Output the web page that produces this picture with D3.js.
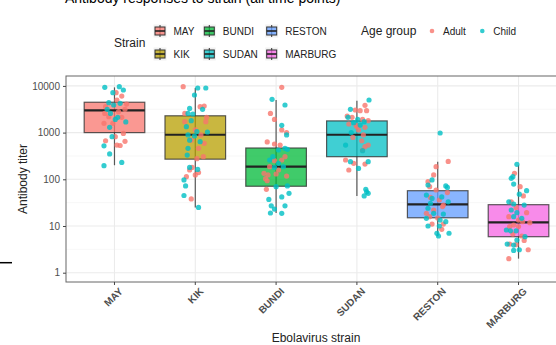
<!DOCTYPE html>
<html>
<head>
<meta charset="utf-8">
<script src="https://cdn.jsdelivr.net/npm/d3@7"></script>
<style>
  body { margin: 0; background: #fff; }
  svg { display: block; font-family: "Liberation Sans", Arial, sans-serif; }
</style>
</head>
<body>
<svg class="titer" width="556" height="345"></svg>
<script>
// Antibody titer per ebolavirus strain, boxplot + jittered points by age group.
var strains = ["MAY", "KIK", "BUNDI", "SUDAN", "RESTON", "MARBURG"];
var strainColors = ["#F8766D", "#B79F00", "#00BA38", "#00BFC4", "#619CFF", "#F564E3"];
var ageGroups = ["Adult", "Child"];
var ageColors = ["#F8766D", "#00BFC4"];
var yTicks = [1, 10, 100, 1000, 10000];

// box stats: [lower whisker, Q1, median, Q3, upper whisker]
var boxMAY = [200, 1000, 3000, 4470, 9300];
var boxKIK = [25, 270, 900, 2290, 9000];
var boxBUNDI = [19, 71, 187, 468, 5000];
var boxSUDAN = [44, 305, 900, 1780, 4800];
var boxRESTON = [6, 15, 29, 57, 238];
var boxMARBURG = [2.0, 5.9, 12, 28.6, 202];

// points: [jitter (fraction of a category step), titer]
var adultMAY = [[0.02,7160],[0.09,6070],[0.03,4990],[0.15,4090],[-0.11,3590],[0.13,3150],[0.05,2810],[-0.12,2580],[-0.07,2190],[0.09,2120],[-0.13,1580],[0.11,960],[0.01,820],[-0.11,670],[0.13,650],[0.03,540],[0.07,530],[-0.02,1580]];
var childMAY = [[-0.12,9310],[0.06,9620],[0.11,8170],[-0.02,7160],[-0.07,4380],[-0.01,3900],[0.07,4230],[-0.05,2580],[0.01,1920],[0.14,1690],[-0.06,1300],[-0.03,820],[-0.13,520],[-0.06,350],[-0.13,196],[0.09,230],[0.04,2120],[-0.09,3150]];
var adultKIK = [[-0.15,9620],[0.11,3700],[0.06,3590],[-0.13,2580],[0.14,2120],[0.13,1710],[-0.13,1710],[0.00,1140],[0.07,890],[-0.05,690],[0.11,590],[0.04,460],[0.10,305],[0.02,277],[-0.04,180],[-0.07,158],[0.04,139],[0.00,124],[-0.11,114],[-0.05,38]];
var childKIK = [[0.03,9020],[0.13,9020],[-0.01,6380],[-0.07,3300],[0.09,3150],[-0.09,2580],[-0.03,2500],[-0.05,1800],[-0.11,1340],[0.02,1050],[0.15,1030],[-0.09,890],[-0.01,845],[-0.07,690],[0.06,640],[-0.09,460],[-0.10,330],[-0.07,180],[0.03,163],[-0.14,97],[-0.12,72],[-0.14,45],[0.04,25]];
var adultBUNDI = [[0.07,9310],[-0.07,2580],[-0.02,1920],[0.07,1140],[0.13,1000],[-0.11,630],[-0.02,570],[0.05,540],[0.11,305],[0.07,259],[-0.02,251],[-0.08,186],[0.03,158],[-0.15,134],[-0.10,124],[0.13,117],[-0.13,103],[-0.11,93],[0.00,130],[-0.12,61]];
var childBUNDI = [[-0.05,5150],[0.11,3900],[0.07,1430],[0.13,890],[0.11,460],[0.03,424],[0.14,438],[-0.04,305],[-0.08,259],[0.03,220],[-0.02,180],[0.09,186],[0.00,69.5],[0.14,72],[0.07,42],[0.16,50],[-0.09,37],[-0.06,27],[0.11,27],[-0.02,23],[-0.07,19],[0.07,18.7]];
var adultSUDAN = [[0.10,3830],[-0.02,3050],[0.04,2950],[0.12,2950],[-0.12,2260],[-0.06,2120],[0.07,1920],[0.14,1800],[-0.10,1530],[-0.01,1430],[0.10,1300],[0.02,1140],[0.08,890],[-0.05,790],[0.06,670],[0.14,540],[0.10,500],[0.07,424],[-0.14,259],[-0.04,220],[0.10,212],[-0.10,158],[0.00,1340]];
var childSUDAN = [[0.15,4990],[-0.08,3150],[-0.11,2120],[0.01,1920],[0.09,1710],[-0.04,1630],[0.04,1450],[-0.07,1000],[-0.14,540],[0.07,410],[-0.08,238],[0.14,238],[0.02,171],[0.11,61],[0.14,50],[0.09,44],[0.12,54]];
var adultRESTON = [[0.13,242],[-0.02,186],[-0.05,124],[-0.12,89],[-0.10,69.5],[-0.02,59],[0.12,52],[-0.09,41],[0.02,36],[0.07,28],[-0.05,22],[-0.14,18.7],[0.06,26],[-0.10,15.8],[0.00,14.8],[-0.07,11],[0.07,11],[0.05,8.5]];
var childRESTON = [[0.03,980],[-0.07,97],[-0.12,75.5],[0.10,72],[0.12,67],[-0.14,46],[-0.07,39],[0.05,42],[0.13,33],[-0.12,24],[-0.05,18.7],[0.07,18],[-0.14,14.6],[0.03,13.4],[0.10,12.4],[-0.12,10],[0.02,10],[-0.01,7],[0.01,6.1],[0.14,7],[-0.09,30.6]];
var adultMARBURG = [[-0.05,134],[0.02,69.5],[0.06,44],[-0.09,33],[-0.03,25],[0.10,19.3],[-0.12,15.8],[0.05,12.4],[0.14,11.8],[-0.06,10.5],[-0.11,9.7],[0.00,9.7],[-0.07,6.7],[0.04,6.1],[0.07,4.9],[-0.11,4.1],[-0.03,4.0],[0.12,3.1],[-0.12,2.0],[0.00,13.4]];
var childMARBURG = [[-0.02,209],[-0.07,114],[-0.09,105],[-0.06,79],[0.10,57],[0.01,48],[-0.12,33],[-0.06,29.6],[0.07,28],[-0.09,22],[-0.02,19.3],[-0.06,15.8],[0.04,14.6],[-0.15,8.2],[-0.10,7.9],[-0.03,7.9],[0.08,5.9],[-0.14,4.1],[-0.06,3.9],[-0.02,5.0],[0.01,3.1],[-0.06,3.0]];

var boxes = [boxMAY, boxKIK, boxBUNDI, boxSUDAN, boxRESTON, boxMARBURG];
var adults = [adultMAY, adultKIK, adultBUNDI, adultSUDAN, adultRESTON, adultMARBURG];
var children = [childMAY, childKIK, childBUNDI, childSUDAN, childRESTON, childMARBURG];

var svg = d3.select("svg.titer");
var panel = {left: 66, right: 567, top: 76, bottom: 282};

// discrete x: ggplot adds 0.6 of a step on each side
var step = (panel.right - panel.left) / (strains.length + 0.2);
var x = function(i) { return panel.left + (0.6 + i) * step; };
var y = d3.scaleLog().domain([0.632, 16300]).range([panel.bottom, panel.top]);

// cut-off title at the very top (only the bottom of the glyphs shows)
svg.append("text")
    .attr("x", 65).attr("y", 3)
    .attr("font-size", "14px").attr("fill", "#000")
    .text("Antibody responses to strain (all time points)");

// stray mark on the left
svg.append("line")
    .attr("x1", 0).attr("x2", 12).attr("y1", 262.7).attr("y2", 262.7)
    .attr("stroke", "#000").attr("stroke-width", 1.5);

// panel grid
var g = svg.append("g");
var minor = yTicks.slice(0, -1).map(function(t) { return t * Math.sqrt(10); });
g.selectAll("line.minor").data(minor).enter().append("line")
    .attr("x1", panel.left).attr("x2", panel.right)
    .attr("y1", function(d) { return y(d); }).attr("y2", function(d) { return y(d); })
    .attr("stroke", "#F2F2F2").attr("stroke-width", 0.6);
g.selectAll("line.major").data(yTicks).enter().append("line")
    .attr("x1", panel.left).attr("x2", panel.right)
    .attr("y1", function(d) { return y(d); }).attr("y2", function(d) { return y(d); })
    .attr("stroke", "#EBEBEB").attr("stroke-width", 1.1);
g.selectAll("line.vgrid").data(strains).enter().append("line")
    .attr("x1", function(d, i) { return x(i); }).attr("x2", function(d, i) { return x(i); })
    .attr("y1", panel.top).attr("y2", panel.bottom)
    .attr("stroke", "#EBEBEB").attr("stroke-width", 1.1);

// boxes
var bw = step * 0.75;
boxes.forEach(function(b, i) {
    var cx = x(i);
    g.append("line")
        .attr("x1", cx).attr("x2", cx).attr("y1", y(b[0])).attr("y2", y(b[4]))
        .attr("stroke", "#333").attr("stroke-width", 1.2).attr("opacity", 0.8);
    g.append("rect")
        .attr("x", cx - bw / 2).attr("width", bw)
        .attr("y", y(b[3])).attr("height", y(b[1]) - y(b[3]))
        .attr("fill", strainColors[i]).attr("fill-opacity", 0.75)
        .attr("stroke", "#333").attr("stroke-opacity", 0.8).attr("stroke-width", 1.2);
    g.append("line")
        .attr("x1", cx - bw / 2).attr("x2", cx + bw / 2).attr("y1", y(b[2])).attr("y2", y(b[2]))
        .attr("stroke", "#222").attr("stroke-width", 2.2);
});

// jittered points, adults then children per strain
strains.forEach(function(s, i) {
    [adults[i], children[i]].forEach(function(pts, k) {
        g.selectAll(null).data(pts).enter().append("circle")
            .attr("cx", function(d) { return x(i) + d[0] * step; })
            .attr("cy", function(d) { return y(d[1]); })
            .attr("r", 2.6)
            .attr("fill", ageColors[k]).attr("fill-opacity", 0.8);
    });
});

// border
svg.append("rect")
    .attr("x", panel.left).attr("y", panel.top)
    .attr("width", panel.right - panel.left).attr("height", panel.bottom - panel.top)
    .attr("fill", "none").attr("stroke", "#666").attr("stroke-width", 1);

// y axis
var yAxis = svg.append("g")
    .attr("transform", "translate(" + panel.left + ",0)")
    .call(d3.axisLeft(y).tickValues(yTicks).tickFormat(d3.format("d")).tickSize(3).tickPadding(3));
yAxis.select(".domain").remove();
yAxis.selectAll("line").attr("stroke", "#444");
yAxis.selectAll("text").attr("font-size", "10px").attr("fill", "#4D4D4D").attr("font-family", "Liberation Sans, Arial, sans-serif");

// x axis, labels rotated 45 degrees
var xAxisG = svg.append("g");
strains.forEach(function(s, i) {
    xAxisG.append("line")
        .attr("x1", x(i)).attr("x2", x(i)).attr("y1", panel.bottom).attr("y2", panel.bottom + 3)
        .attr("stroke", "#444");
    xAxisG.append("text")
        .attr("transform", "translate(" + (x(i) + 4) + "," + (panel.bottom + 5) + ") rotate(-45)")
        .attr("text-anchor", "end").attr("dy", "0.7em")
        .attr("font-size", "10px").attr("font-weight", "bold").attr("fill", "#4D4D4D")
        .text(s);
});

// axis titles
svg.append("text")
    .attr("transform", "translate(27," + (panel.top + panel.bottom) / 2 + ") rotate(-90)")
    .attr("text-anchor", "middle").attr("font-size", "12px").attr("fill", "#222")
    .text("Antibody titer");
svg.append("text")
    .attr("x", 316).attr("y", 342)
    .attr("text-anchor", "middle").attr("font-size", "12px").attr("fill", "#222")
    .text("Ebolavirus strain");

// legend: Strain
var legend = svg.append("g").attr("font-size", "10px");
legend.append("text").attr("x", 114).attr("y", 47).attr("font-size", "12px").attr("fill", "#222").text("Strain");
var keyCols = [153.5, 202.8, 265.2], keyRows = [31, 54], keySize = 13;
strains.forEach(function(s, i) {
    var col = Math.floor(i / 2), row = i % 2;
    var kx = keyCols[col], ky = keyRows[row];
    var k = legend.append("g");
    k.append("rect").attr("x", kx).attr("y", ky - keySize / 2).attr("width", keySize).attr("height", keySize)
        .attr("fill", "#F2F2F2");
    k.append("line").attr("x1", kx + keySize / 2).attr("x2", kx + keySize / 2)
        .attr("y1", ky - keySize / 2 + 0.5).attr("y2", ky + keySize / 2 - 0.5)
        .attr("stroke", "#333").attr("stroke-width", 1);
    k.append("rect").attr("x", kx + 1.5).attr("y", ky - 4).attr("width", keySize - 3).attr("height", 8)
        .attr("fill", strainColors[i]).attr("fill-opacity", 0.75)
        .attr("stroke", "#333").attr("stroke-width", 1);
    k.append("line").attr("x1", kx + 1.5).attr("x2", kx + keySize - 1.5).attr("y1", ky).attr("y2", ky)
        .attr("stroke", "#222").attr("stroke-width", 1.6);
    legend.append("text").attr("x", kx + keySize + 7).attr("y", ky + 3.5).attr("fill", "#222").text(s);
});

// legend: Age group
legend.append("text").attr("x", 361).attr("y", 35).attr("font-size", "12px").attr("fill", "#222").text("Age group");
var ageX = [432, 482.3];
ageGroups.forEach(function(a, i) {
    legend.append("circle").attr("cx", ageX[i]).attr("cy", 31).attr("r", 2.3)
        .attr("fill", ageColors[i]).attr("fill-opacity", 0.8);
    legend.append("text").attr("x", ageX[i] + 11).attr("y", 34.5).attr("fill", "#222").text(a);
});
</script>
</body>
</html>
